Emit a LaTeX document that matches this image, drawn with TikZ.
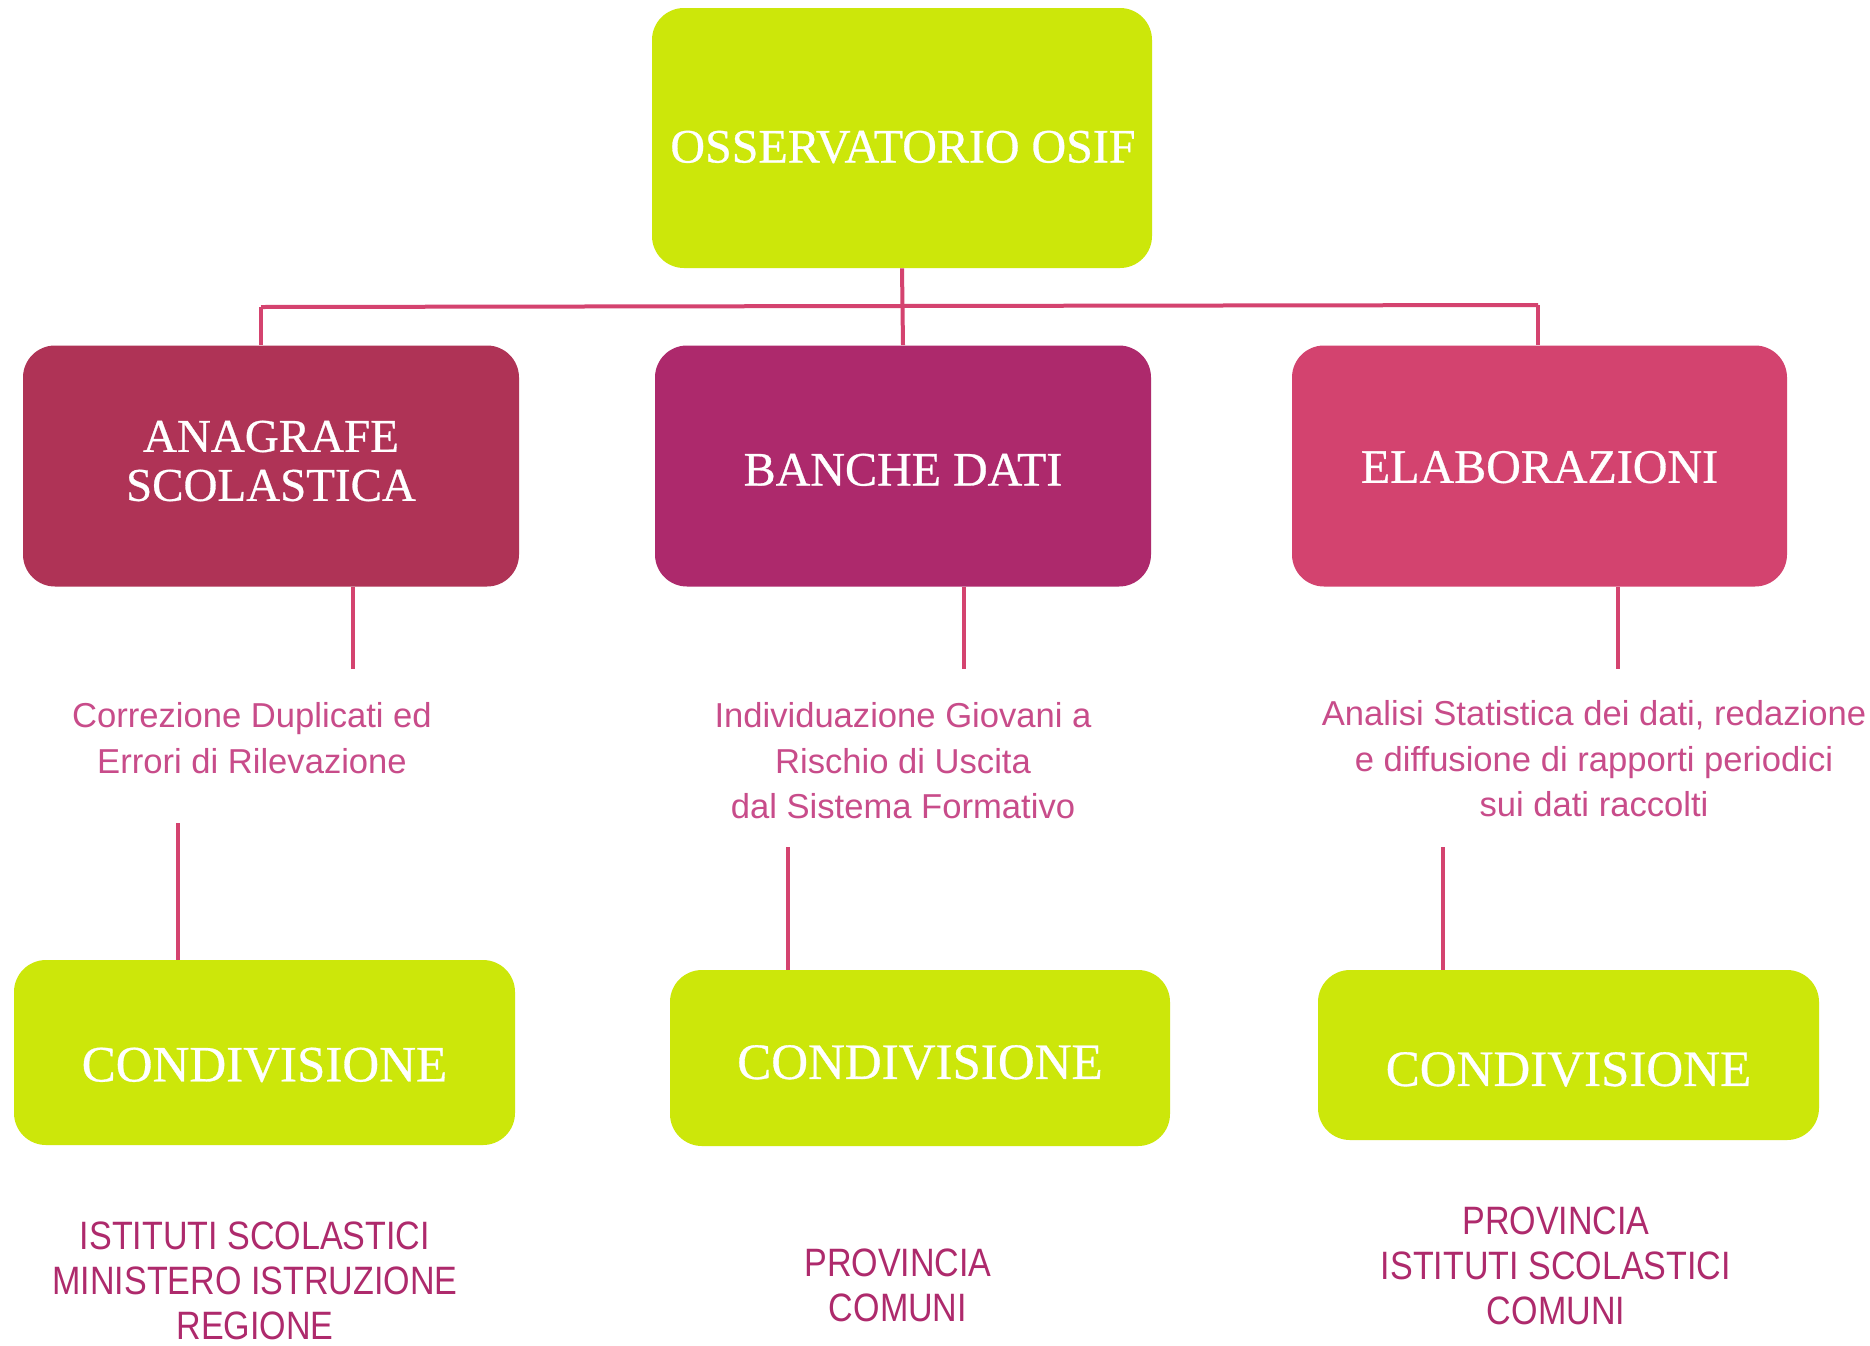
\documentclass[tikz,border=0pt]{standalone}
\usepackage{fontspec}
\setmainfont{Liberation Serif}
\newfontfamily\titlefont[FakeBold=0.6]{Liberation Serif}
\newfontfamily\bodyfont{Liberation Sans}
\newfontfamily\condfont[FakeStretch=0.86]{Liberation Sans}
\definecolor{limeg}{HTML}{CCE70A}
\definecolor{anacol}{HTML}{AF3356}
\definecolor{bancol}{HTML}{AD296C}
\definecolor{elacol}{HTML}{D3436F}
\definecolor{linecol}{HTML}{D4436F}
\definecolor{desccol}{HTML}{C84C8A}
\definecolor{orgcol}{HTML}{AE2A6C}
\tikzset{
  box/.style={rounded corners=16pt, inner sep=0pt, text=white, align=center,
    font=\titlefont\fontsize{24}{24.5}\selectfont},
  greenbox/.style={box, fill=limeg},
  condbox/.style={greenbox, font=\titlefont\fontsize{25.5}{26}\selectfont, text depth=0pt},
  conn/.style={draw=linecol, line width=2pt},
  desc/.style={text=desccol, align=center, inner sep=0pt,
    font=\bodyfont\fontsize{17.3}{22.7}\selectfont},
  org/.style={text=orgcol, align=center, inner sep=0pt,
    font=\condfont\fontsize{19.8}{22.5}\selectfont},
}
\begin{document}
\begin{tikzpicture}[x=0.5pt,y=-0.5pt]
\useasboundingbox (0,0) rectangle (1870,1345);
\fill[white] (0,0) rectangle (1870,1345);

% top
\node[greenbox, minimum width=250pt, minimum height=130pt] (top) at (902,138) {};
\node[text=white, inner sep=0pt, font=\titlefont\fontsize{24}{24.5}\selectfont] (toplbl) at (903,147) {OSSERVATORIO OSIF};

% second row
\node[box, fill=anacol, minimum width=248pt, minimum height=120.5pt] (ana) at (271,466) {};
\node[text=white, inner sep=0pt, align=center, font=\titlefont\fontsize{23.5}{24.5}\selectfont] (analbl) at (271,461) {ANAGRAFE\\SCOLASTICA};
\node[box, fill=bancol, minimum width=248pt, minimum height=120.5pt, text height=19.5pt, text depth=0pt] (ban) at (903,466) {BANCHE DATI};
\node[box, fill=elacol, minimum width=247.5pt, minimum height=120.5pt, text height=16.8pt, text depth=0pt] (ela) at (1539.5,466) {ELABORAZIONI};

% bus
\coordinate (busL) at (261,307);
\coordinate (busR) at (1538,305);
\draw[conn] (busL) -- (busR);
\draw[conn] (top.south) -- (ban.north);
\draw[conn] (busL) -- (busL |- ana.north);
\draw[conn] (busR) -- (busR |- ela.north);

% descriptions
\node[desc] (d1) at (252,738) {Correzione Duplicati ed\\Errori di Rilevazione};
\node[desc] (d2) at (903,761) {Individuazione Giovani a\\Rischio di Uscita\\dal Sistema Formativo};
\node[desc] (d3) at (1594,759) {Analisi Statistica dei dati, redazione\\e diffusione di rapporti periodici\\sui dati raccolti};

\coordinate (e1) at (353,669);
\coordinate (e2) at (964,669);
\coordinate (e3) at (1618,669);
\draw[conn] (e1 |- ana.south) -- (e1);
\draw[conn] (e2 |- ban.south) -- (e2);
\draw[conn] (e3 |- ela.south) -- (e3);

% condivisione
\node[condbox, minimum width=250.5pt, minimum height=92.5pt, text height=28.9pt] (c1) at (264.5,1052.5) {CONDIVISIONE};
\node[condbox, minimum width=250pt, minimum height=88pt, text height=20.9pt] (c2) at (920,1058) {CONDIVISIONE};
\node[condbox, minimum width=250.5pt, minimum height=85pt, text height=30.9pt] (c3) at (1568.5,1055) {CONDIVISIONE};

\coordinate (f1) at (178,823);
\coordinate (f2) at (788,847);
\coordinate (f3) at (1443,847);
\draw[conn] (f1) -- (f1 |- c1.north);
\draw[conn] (f2) -- (f2 |- c2.north);
\draw[conn] (f3) -- (f3 |- c3.north);

% organisations
\node[org] (o1) at (255,1281) {ISTITUTI SCOLASTICI\\MINISTERO ISTRUZIONE\\REGIONE};
\node[org] (o2) at (898,1285) {PROVINCIA\\COMUNI};
\node[org] (o3) at (1556,1266) {PROVINCIA\\ISTITUTI SCOLASTICI\\COMUNI};
\end{tikzpicture}
\end{document}
